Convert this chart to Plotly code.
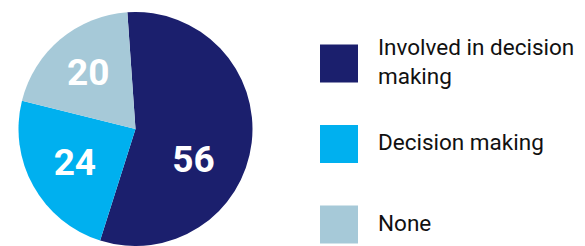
import plotly.graph_objects as go

categories = ["Involved in decision<br>making", "Decision making", "None"]
values = [56, 24, 20]
colors = ["#1B1F6D", "#00B0EF", "#A6C9D8"]

W, H = 585, 246

fig = go.Figure()
fig.add_trace(go.Pie(
    labels=categories,
    values=values,
    marker=dict(colors=colors, line=dict(width=0)),
    sort=False,
    direction="clockwise",
    rotation=-4,
    textinfo="value",
    texttemplate=[" <br>%{value}", "%{value}", "%{value}"],
    textposition="inside",
    insidetextorientation="horizontal",
    textfont=dict(family="Roboto", size=37, color="white", weight="bold"),
    domain=dict(x=[18.5 / W, 252.5 / W], y=[0, 234 / H]),
    showlegend=False,
    hoverinfo="label+value",
))

# custom legend (large square swatches)
leg_x0, sw = 320, 38
leg_first_center, leg_step = 63.5, 80.5
shapes, annotations = [], []
for i, (lab, col) in enumerate(zip(categories, colors)):
    cy = leg_first_center + i * leg_step
    shapes.append(dict(
        type="rect", xref="paper", yref="paper",
        x0=leg_x0 / W, x1=(leg_x0 + sw) / W,
        y0=1 - (cy + sw / 2) / H, y1=1 - (cy - sw / 2) / H,
        fillcolor=col, line=dict(width=0),
    ))
    annotations.append(dict(
        xref="paper", yref="paper", x=376 / W, y=1 - (cy - 2) / H,
        xanchor="left", yanchor="middle", align="left",
        text=lab, showarrow=False,
        font=dict(family="Roboto", size=22.5, color="#111111"),
    ))

fig.update_layout(
    width=W, height=H,
    margin=dict(l=0, r=0, t=0, b=0),
    paper_bgcolor="white",
    plot_bgcolor="white",
    shapes=shapes,
    annotations=annotations,
)

fig.write_html("out.html", config={"displayModeBar": False},
               post_script="document.body.style.margin='0';")
